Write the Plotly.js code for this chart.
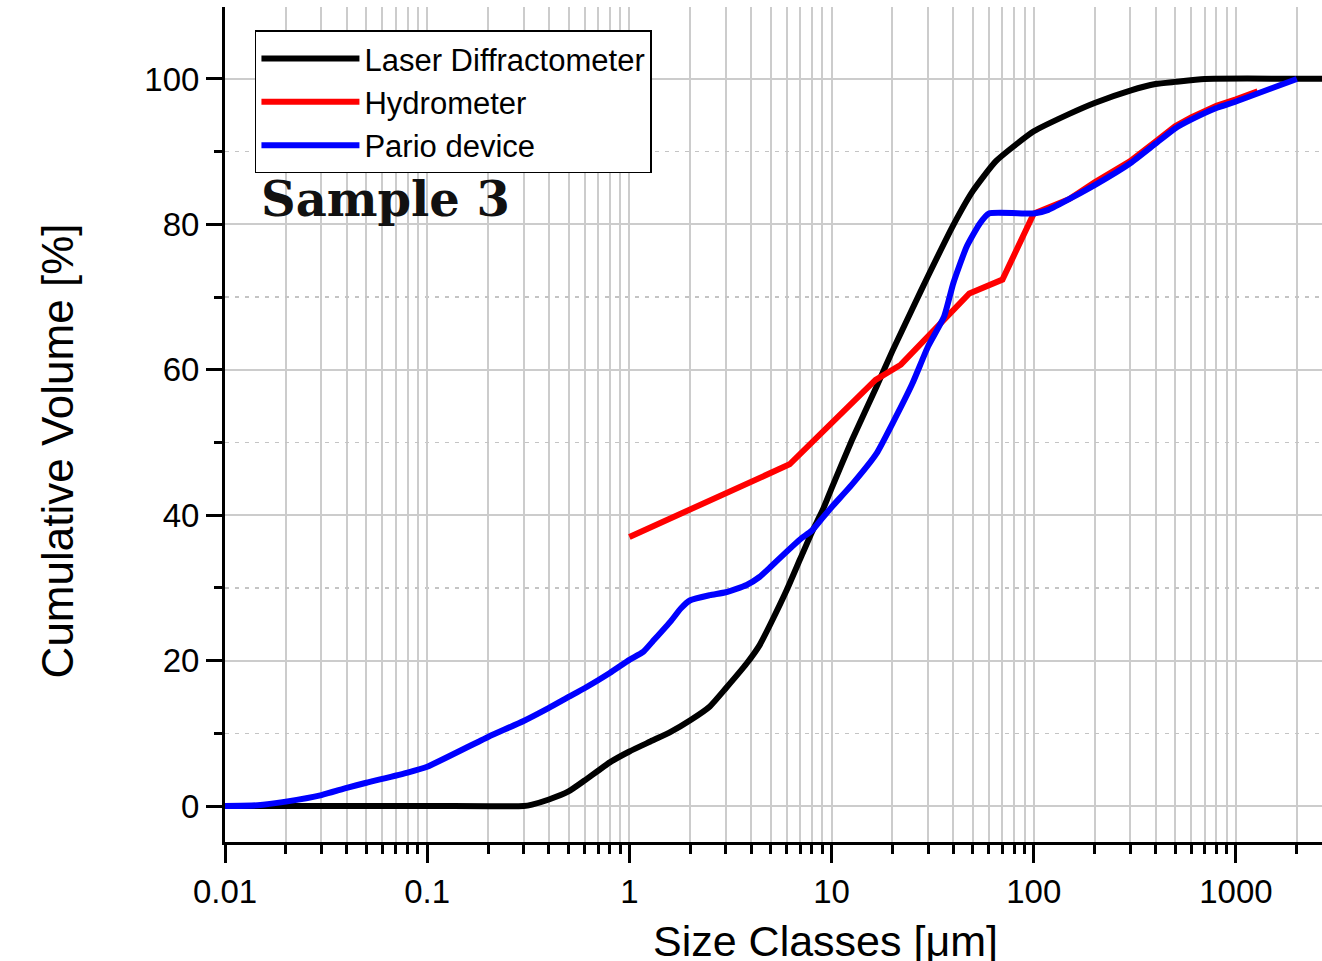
<!DOCTYPE html>
<html>
<head>
<meta charset="utf-8">
<script src="https://cdn.plot.ly/plotly-3.0.1.min.js"></script>
<style>
html, body { margin: 0; padding: 0; background: #ffffff; overflow: hidden; }
#chart { width: 1322px; height: 961px; }
</style>
</head>
<body>
<div id="chart"></div>
<script>
// ---- data ----
const seriesNames = ["Laser Diffractometer", "Hydrometer", "Pario device"];

const laserSize = [0.01, 0.1, 0.3, 0.33, 0.4, 0.5, 0.6, 0.8, 1.0, 1.3, 1.6, 2.0, 2.5, 3.0, 3.8, 4.4, 5, 6, 7, 8, 9, 10, 12.6, 16.7, 20, 25, 30, 40, 50, 65, 100, 150, 200, 300, 400, 500, 700, 3500];
const laserVol  = [0, 0, 0, 0.2, 0.9, 2.0, 3.5, 6.0, 7.5, 9.0, 10.2, 11.8, 13.7, 16.2, 19.6, 22.1, 25.1, 29.7, 34.0, 37.7, 40.6, 43.7, 50.3, 57.7, 62.6, 68.3, 72.9, 79.9, 84.6, 88.7, 92.8, 95.2, 96.7, 98.4, 99.3, 99.6, 100, 100];

const hydroSize = [1, 6.2, 16.5, 22, 48, 70, 100, 150, 200, 300, 400, 500, 600, 800, 1000, 1280];
const hydroVol  = [37.0, 47.0, 58.6, 60.7, 70.5, 72.4, 81.5, 83.5, 85.8, 88.7, 91.4, 93.5, 94.7, 96.3, 97.2, 98.3];

const parioSize = [0.01, 0.0145, 0.02, 0.03, 0.04, 0.05, 0.08, 0.1, 0.2, 0.3, 0.4, 0.5, 0.6, 0.8, 1.0, 1.17, 1.3, 1.6, 1.8, 2.0, 2.5, 3.0, 3.8, 4.4, 5, 6, 7, 8, 9, 10, 12.6, 16.7, 20, 25, 30, 36, 40, 46.5, 54, 60, 100, 118, 200, 300, 400, 500, 600, 800, 1000, 2000];
const parioVol  = [0, 0.1, 0.6, 1.5, 2.5, 3.2, 4.6, 5.4, 9.5, 11.7, 13.5, 15.0, 16.2, 18.3, 20.1, 21.2, 22.6, 25.4, 27.2, 28.3, 29.0, 29.4, 30.4, 31.5, 32.9, 35.0, 36.7, 37.9, 39.6, 41.1, 44.2, 48.5, 52.6, 58.0, 63.2, 67.3, 71.9, 76.9, 80.1, 81.5, 81.5, 82.0, 85.4, 88.4, 91.1, 93.2, 94.4, 96.0, 96.9, 100];

const xTickVals = [0.01, 0.1, 1, 10, 100, 1000];
const xTickText = ["0.01", "0.1", "1", "10", "100", "1000"];
const yTickVals = [0, 20, 40, 60, 80, 100];
const yTickText = ["0", "20", "40", "60", "80", "100"];

const xTitle = "Size Classes [μm]";
const yTitle = "Cumulative Volume [%]";
const panelLabel = "Sample 3";

// ---- build ----
const colors = ["#000000", "#ff0000", "#0000ff"];
const xs = [laserSize, hydroSize, parioSize];
const ys = [laserVol, hydroVol, parioVol];

const traces = seriesNames.map((name, i) => ({
  type: "scatter",
  mode: "lines",
  name: name,
  x: xs[i],
  y: ys[i],
  line: { color: colors[i], width: 6, shape: "spline", smoothing: 0.5 },
  hoverinfo: "skip"
}));
traces[1].line.shape = "linear";

// minor tick positions 2..9 in each decade
const minorX = [];
for (let e = -2; e <= 3; e++) {
  for (let d = 2; d <= 9; d++) minorX.push(d * Math.pow(10, e));
}

const FONT = "Liberation Sans, Arial, sans-serif";

const layout = {
  width: 1322,
  height: 961,
  margin: { l: 225, r: 0, t: 7, b: 119, pad: 0 },
  paper_bgcolor: "#ffffff",
  plot_bgcolor: "#ffffff",
  showlegend: true,
  font: { family: FONT, color: "#000000" },
  xaxis: {
    type: "log",
    range: [-2, 3.4255],
    tickmode: "array",
    tickvals: xTickVals,
    ticktext: xTickText,
    ticks: "outside",
    ticklen: 18,
    tickwidth: 3,
    tickcolor: "#000000",
    tickfont: { family: FONT, size: 33, color: "#000000" },
    showline: true,
    linecolor: "#000000",
    linewidth: 3,
    showgrid: true,
    gridcolor: "#cccccc",
    gridwidth: 2,
    zeroline: false,
    minor: {
      tickmode: "array",
      tickvals: minorX,
      ticks: "outside",
      ticklen: 9,
      tickwidth: 3,
      tickcolor: "#000000",
      showgrid: true,
      gridcolor: "#cccccc",
      gridwidth: 2
    }
  },
  yaxis: {
    range: [-4.95, 109.9],
    tickmode: "array",
    tickvals: yTickVals,
    ticktext: yTickText,
    ticks: "outside",
    ticklen: 16,
    tickwidth: 3,
    tickcolor: "#000000",
    tickfont: { family: FONT, size: 33, color: "#000000" },
    showline: true,
    linecolor: "#000000",
    linewidth: 3,
    showgrid: true,
    gridcolor: "#cccccc",
    gridwidth: 2,
    zeroline: false,
    minor: {
      tickmode: "array",
      tickvals: [10, 30, 50, 70, 90],
      ticks: "outside",
      ticklen: 8,
      tickwidth: 3,
      tickcolor: "#000000",
      showgrid: true,
      gridcolor: "#c4c4c4",
      gridwidth: 1.5,
      griddash: "4px,6px"
    }
  },
  legend: {
    x: 0.0273,
    y: 0.972,
    xanchor: "left",
    yanchor: "top",
    bgcolor: "#ffffff",
    bordercolor: "#000000",
    borderwidth: 1.5,
    font: { family: FONT, size: 31, color: "#000000" },
    itemwidth: 98,
    tracegroupgap: 0
  },
  annotations: [
    {
      text: xTitle,
      xref: "paper", yref: "paper",
      x: 0.547, y: -0.088,
      xanchor: "center", yanchor: "top",
      showarrow: false,
      font: { family: FONT, size: 43, color: "#000000" }
    },
    {
      text: yTitle,
      xref: "paper", yref: "paper",
      x: -0.153, y: 0.468,
      xanchor: "center", yanchor: "middle",
      textangle: -90,
      showarrow: false,
      font: { family: FONT, size: 44, color: "#000000" }
    },
    {
      text: "<b>" + panelLabel + "</b>",
      xref: "paper", yref: "paper",
      x: 0.031, y: 0.770,
      xanchor: "left", yanchor: "middle",
      showarrow: false,
      font: { family: "DejaVu Serif, Liberation Serif, serif", size: 48, color: "#111111" }
    }
  ]
};

Plotly.newPlot("chart", traces, layout, { displayModeBar: false, staticPlot: true });
</script>
</body>
</html>
